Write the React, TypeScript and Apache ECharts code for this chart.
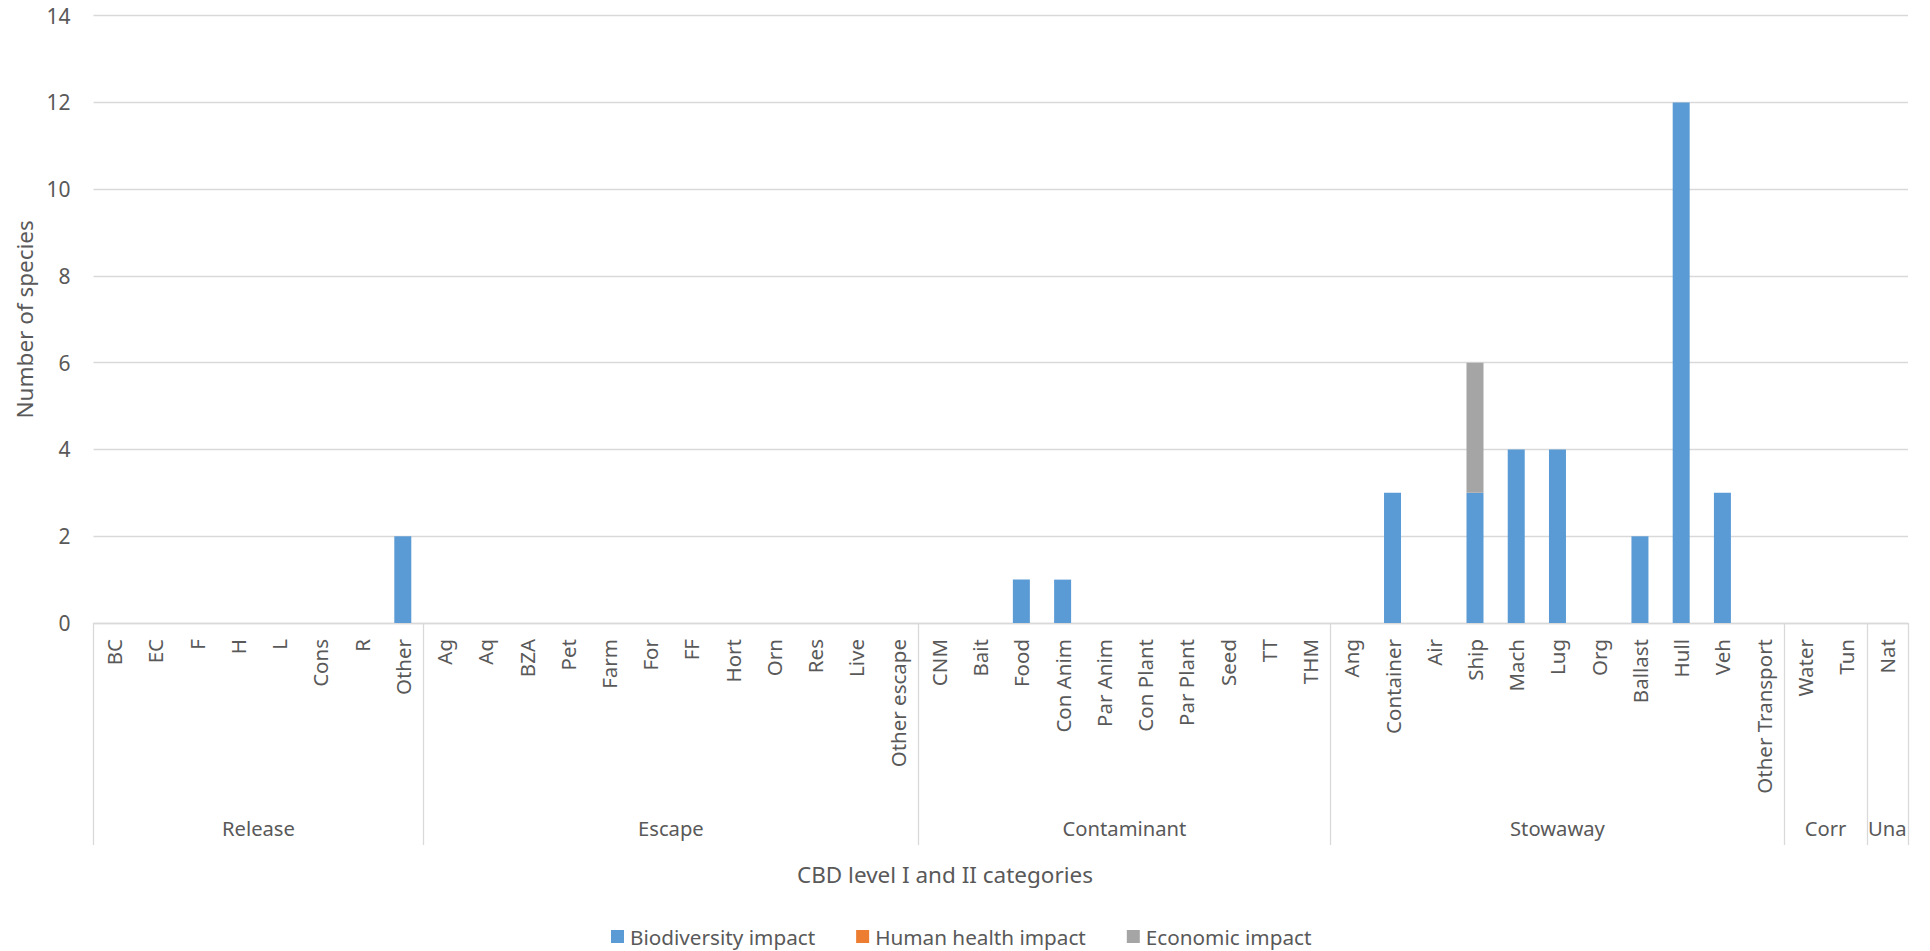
import React, { useEffect, useRef } from "react";
import * as echarts from "echarts";

// CBD level II pathway categories, in display order
const categories = [
  "BC", "EC", "F", "H", "L", "Cons", "R", "Other",
  "Ag", "Aq", "BZA", "Pet", "Farm", "For", "FF", "Hort", "Orn", "Res", "Live", "Other escape",
  "CNM", "Bait", "Food", "Con Anim", "Par Anim", "Con Plant", "Par Plant", "Seed", "TT", "THM",
  "Ang", "Container", "Air", "Ship", "Mach", "Lug", "Org", "Ballast", "Hull", "Veh", "Other Transport",
  "Water", "Tun",
  "Nat",
];

// CBD level I groups and how many level II categories each holds
const groups = ["Release", "Escape", "Contaminant", "Stowaway", "Corr", "Una"];
const groupSizes = [8, 12, 10, 11, 2, 1];

// Number of species per category and impact type
const biodiversity = [
  0, 0, 0, 0, 0, 0, 0, 2,
  0, 0, 0, 0, 0, 0, 0, 0, 0, 0, 0, 0,
  0, 0, 1, 1, 0, 0, 0, 0, 0, 0,
  0, 3, 0, 3, 4, 4, 0, 2, 12, 3, 0,
  0, 0,
  0,
];
const humanHealth = [
  0, 0, 0, 0, 0, 0, 0, 0,
  0, 0, 0, 0, 0, 0, 0, 0, 0, 0, 0, 0,
  0, 0, 0, 0, 0, 0, 0, 0, 0, 0,
  0, 0, 0, 0, 0, 0, 0, 0, 0, 0, 0,
  0, 0,
  0,
];
const economic = [
  0, 0, 0, 0, 0, 0, 0, 0,
  0, 0, 0, 0, 0, 0, 0, 0, 0, 0, 0, 0,
  0, 0, 0, 0, 0, 0, 0, 0, 0, 0,
  0, 0, 0, 3, 0, 0, 0, 0, 0, 0, 0,
  0, 0,
  0,
];

const yTicks = { min: 0, max: 14, interval: 2 };

const FONT = "'Noto Sans', 'Open Sans', sans-serif";
const TEXT = "#595959";
const LINE = "#d9d9d9";

export default function App() {
  const ref = useRef<HTMLDivElement>(null);

  useEffect(() => {
    if (!ref.current) return;
    const chart = echarts.init(ref.current, undefined, { renderer: "svg" });

    // group boundaries and centres on a 0..N scale matching the category slots
    const bounds: number[] = [0];
    groupSizes.forEach((s) => bounds.push(bounds[bounds.length - 1] + s));
    const centers = groups.map((_, i) => (bounds[i] + bounds[i + 1]) / 2);
    const total = categories.length;

    chart.setOption({
      animation: false,
      textStyle: { fontFamily: FONT, color: TEXT },
      grid: { left: 93.5, right: 22, top: 15.7, bottom: 328 },
      legend: {
        left: 611,
        top: 926,
        padding: 0,
        itemWidth: 13,
        itemHeight: 13,
        itemGap: 41,
        icon: "rect",
        textStyle: { fontFamily: FONT, fontSize: 20.7, color: TEXT, padding: [0, 0, 0, 1] },
        data: ["Biodiversity impact", "Human health impact", "Economic impact"],
      },
      xAxis: [
        {
          type: "category",
          data: categories,
          axisLine: { lineStyle: { color: LINE, width: 1.3 } },
          axisTick: { show: false },
          axisLabel: {
            interval: 0,
            rotate: 90,
            margin: 16,
            fontSize: 20.5,
            fontFamily: FONT,
            color: TEXT,
          },
        },
        {
          type: "value",
          position: "bottom",
          min: 0,
          max: total,
          axisLine: { show: false },
          splitLine: { show: false },
          axisTick: {
            show: true,
            customValues: bounds,
            length: 222,
            lineStyle: { color: LINE, width: 1.3 },
          },
          axisLabel: {
            customValues: centers,
            margin: 195,
            fontSize: 20.2,
            fontFamily: FONT,
            color: TEXT,
            formatter: (v: number) => {
              const i = centers.findIndex((c) => Math.abs(c - v) < 1e-6);
              return i >= 0 ? groups[i] : "";
            },
          },
        },
      ],
      yAxis: {
        type: "value",
        min: yTicks.min,
        max: yTicks.max,
        interval: yTicks.interval,
        name: "Number of species",
        nameLocation: "middle",
        nameGap: 56,
        nameTextStyle: { fontFamily: FONT, fontSize: 22.5, color: TEXT },
        axisLine: { show: false },
        axisTick: { show: false },
        axisLabel: { margin: 23, fontSize: 21, fontFamily: FONT, color: TEXT },
        splitLine: { lineStyle: { color: LINE, width: 1.3 } },
      },
      graphic: [
        {
          type: "text",
          x: 945,
          y: 874,
          style: {
            text: "CBD level I and II categories",
            font: `22.5px ${FONT}`,
            fill: TEXT,
            textAlign: "center",
            textVerticalAlign: "middle",
          },
        },
      ],
      series: [
        {
          name: "Biodiversity impact",
          type: "bar",
          stack: "impact",
          barWidth: 17,
          itemStyle: { color: "#5b9bd5" },
          data: biodiversity,
        },
        {
          name: "Human health impact",
          type: "bar",
          stack: "impact",
          barWidth: 17,
          itemStyle: { color: "#ed7d31" },
          data: humanHealth,
        },
        {
          name: "Economic impact",
          type: "bar",
          stack: "impact",
          barWidth: 17,
          itemStyle: { color: "#a5a5a5" },
          data: economic,
        },
      ],
    });

    return () => chart.dispose();
  }, []);

  return (
    <div
      ref={ref}
      style={{ position: "fixed", left: 0, top: 0, width: 1930, height: 951, background: "#fff" }}
    />
  );
}
